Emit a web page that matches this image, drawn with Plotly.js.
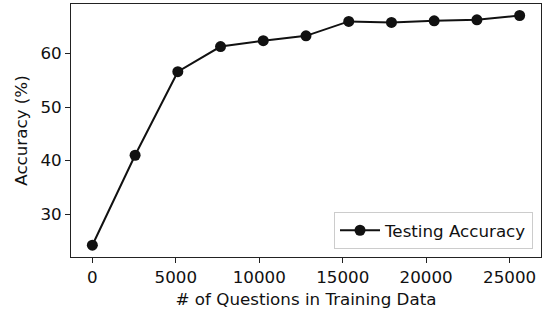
<!DOCTYPE html>
<html><head><meta charset="utf-8">
<script src="https://cdn.plot.ly/plotly-3.0.1.min.js"></script>
<style>html,body{margin:0;padding:0;background:#fff}#c{width:542px;height:311px}</style>
</head><body><div id="c"></div>
<script>
const questions = [0, 2560, 5120, 7680, 10240, 12800, 15360, 17920, 20480, 23040, 25600];
const accuracy = [24.2, 41.0, 56.6, 61.3, 62.4, 63.3, 66.0, 65.8, 66.1, 66.3, 67.1];
const seriesName = "Testing Accuracy";
const xTicks = [0, 5000, 10000, 15000, 20000, 25000];
const yTicks = [30, 40, 50, 60];

const font = {family: "DejaVu Sans", size: 16.7, color: "#111"};
Plotly.newPlot("c", [{
  x: questions, y: accuracy, name: seriesName, type: "scatter", mode: "lines+markers",
  line: {color: "#111111", width: 2},
  marker: {color: "#111111", size: 11}
}], {
  width: 542, height: 311,
  margin: {l: 71, r: 1, t: 4, b: 54},
  paper_bgcolor: "#fff", plot_bgcolor: "#fff",
  font: font,
  showlegend: true,
  legend: {x: 0.983, xanchor: "right", y: 0.032, yanchor: "bottom",
    bordercolor: "#cccccc", borderwidth: 1, bgcolor: "rgba(255,255,255,0.8)",
    itemwidth: 40,
    font: {family: "DejaVu Sans", size: 16.7, color: "#111"}},
  xaxis: {range: [-1280, 26880], tickvals: xTicks, ticktext: xTicks.map(String),
    showgrid: false, zeroline: false, showline: true, mirror: true, linecolor: "#222", linewidth: 1,
    ticks: "outside", ticklen: 5, tickcolor: "#222",
    title: {text: "# of Questions in Training Data", font: font, standoff: 7}},
  yaxis: {range: [22.0, 69.25], tickvals: yTicks, ticktext: yTicks.map(String),
    showgrid: false, zeroline: false, showline: true, mirror: true, linecolor: "#222", linewidth: 1,
    ticks: "outside", ticklen: 5, tickcolor: "#222",
    title: {text: "Accuracy (%)", font: font, standoff: 8}}
}, {displayModeBar: false, staticPlot: true});
</script></body></html>
